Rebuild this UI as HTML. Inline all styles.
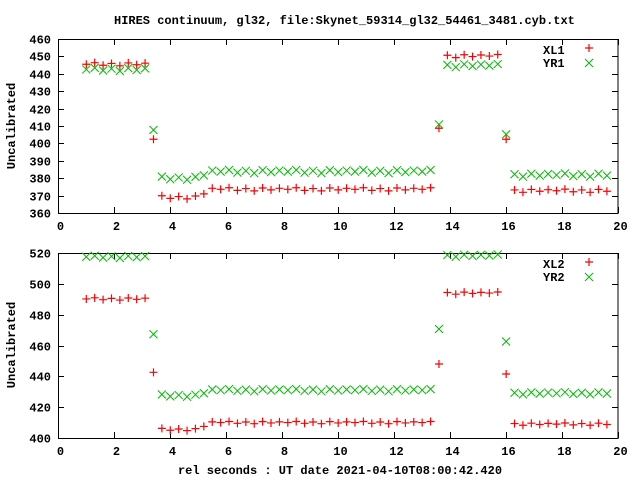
<!DOCTYPE html>
<html><head><meta charset="utf-8"><style>
body{margin:0;background:#fff}
svg text{font-family:"Liberation Mono",monospace;font-weight:bold;font-size:12px;fill:#000}
</style></head><body>
<svg id="s" width="640" height="480" xmlns="http://www.w3.org/2000/svg">
<rect width="640" height="480" fill="#fff"/>
<text x="114" y="24">HIRES continuum, gl32, file:Skynet_59314_gl32_54461_3481.cyb.txt</text>
<text x="340" y="474" text-anchor="middle">rel seconds : UT date 2021-04-10T08:00:42.420</text>
<text transform="translate(15,126) rotate(-90)" text-anchor="middle">Uncalibrated</text>
<text transform="translate(15,345) rotate(-90)" text-anchor="middle">Uncalibrated</text>
<text x="543" y="54">XL1</text><text x="543" y="67">YR1</text>
<text x="543" y="268">XL2</text><text x="543" y="281">YR2</text>
<g id="g"></g>
</svg>
<script>
var g=document.getElementById('g'),h='';
function X(v){return 58.3+v*27.99}
function frame(t,b,ymin,ymax,step){
 h+='<rect x="58.5" y="'+(t+.5)+'" width="559.5" height="'+(b-t)+'" fill="none" stroke="#000"/>';
 for(var i=0;i<=20;i+=2){var x=Math.round(X(i))+.5;
  h+='<path d="M'+x+' '+b+'v-6M'+x+' '+t+'v6" stroke="#000"/>';
  h+='<text x="'+(x+2)+'" y="'+(b+17)+'" text-anchor="middle">'+i+'</text>';}
 for(var v=ymin;v<=ymax;v+=step){var y=Math.round(b-(v-ymin)*(b-t)/(ymax-ymin))+.5;
  h+='<path d="M58 '+y+'h6M618 '+y+'h-6" stroke="#000"/>';
  h+='<text x="51" y="'+(y+4)+'" text-anchor="end">'+v+'</text>';}
}
function pts(t,b,ymin,ymax,f,type){
 for(var i=0;i<63;i++){var xv=1+0.3*i;var v=f(xv,i);
  var x=X(xv),y=b-(v-ymin)*(b-t)/(ymax-ymin);
  if(y<t-1)continue;
  if(type)h+='<path d="M'+(x-4)+' '+y+'h8M'+x+' '+(y-4)+'v8" stroke="#f00" stroke-width="1.2"/>';
  else h+='<path d="M'+(x-4)+' '+(y-4)+'l8 8M'+(x-4)+' '+(y+4)+'l8 -8" stroke="#0b0" stroke-width="1"/>';
 }
}
function seg(a,j,lo1,lo2,k,hi,m,tail){return function(x,i){
 if(i<8)return a;if(i==8)return j;
 if(i<=13)return lo1; if(i==14)return (lo1+lo2)/2; if(i<=41)return lo2;
 if(i==42)return k; if(i<=49)return hi; if(i==50)return m; return tail;}}
var jit=[0,0.6,-0.4,0.3,-0.6,0.5,-0.2,0.4];
function J(f,amp){return function(x,i){return f(x,i)+jit[i%8]*amp}}
frame(39,213,360,460,10);
pts(39,213,360,460,J(seg(445.5,402.4,369,373.6,409.3,450.2,403,372.8),1.5),1);
pts(39,213,360,460,J(seg(442.5,407.7,380,383.8,411.5,444.7,405.8,381.8),1.5),0);
frame(253,438,400,520,20);
pts(253,438,400,520,J(seg(490.2,442.6,405.5,410,448.5,494,442,409),1.2),1);
pts(253,438,400,520,J(seg(517.5,467.3,427.5,431,471.2,518.3,463.1,429),1.2),0);
h+='<path d="M585 48h8M589 44v8" stroke="#f00" stroke-width="1.2"/><path d="M585 59l8 8M585 67l8-8" stroke="#0b0"/>';
h+='<path d="M585 262h8M589 258v8" stroke="#f00" stroke-width="1.2"/><path d="M585 273l8 8M585 281l8-8" stroke="#0b0"/>';
g.innerHTML=h;
</script>
</body></html>
